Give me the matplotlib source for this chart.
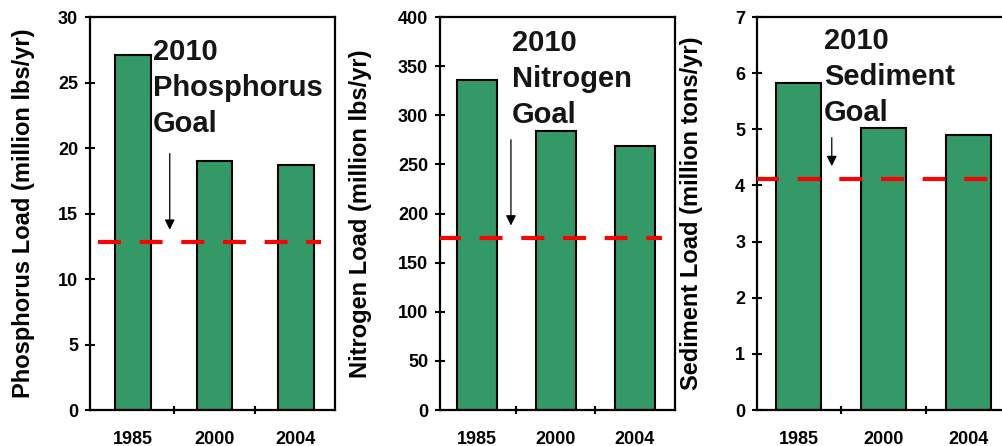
import matplotlib
matplotlib.use("Agg")
from matplotlib import pyplot as plt

plt.rcParams['font.family'] = ['Liberation Sans', 'DejaVu Sans']

years = ['1985', '2000', '2004']

phosphorus = [27.1, 19.0, 18.7]
nitrogen = [336, 284, 269]
sediment = [5.82, 5.03, 4.90]

phosphorus_goal = 12.8
nitrogen_goal = 175
sediment_goal = 4.12

phosphorus_ticks = [0, 5, 10, 15, 20, 25, 30]
nitrogen_ticks = [0, 50, 100, 150, 200, 250, 300, 350, 400]
sediment_ticks = [0, 1, 2, 3, 4, 5, 6, 7]

BAR_GREEN = '#339966'


def draw_panel(ax, values, goal, ticks, ylabel, name, bar_w,
               line_span, arrow_x, arrow_top, text_x, text_top, label_x, xlim):
    x = list(range(len(years)))
    ax.bar(x, values, width=bar_w, color=BAR_GREEN, edgecolor='black',
           linewidth=1.5, zorder=2)
    ax.hlines(goal, line_span[0], line_span[1], colors='#ff0000',
              linewidth=3, linestyles=(0, (5.5, 4.5)), zorder=3)
    ax.annotate('', xy=(arrow_x, goal + (ticks[-1] * 0.025)),
                xytext=(arrow_x, arrow_top),
                arrowprops=dict(arrowstyle='-|>', color='black', lw=0.9,
                                mutation_scale=15))
    ax.text(text_x, text_top, '2010\n' + name + '\nGoal', fontsize=21,
            fontweight='bold', va='top', ha='left', linespacing=1.36,
            color='#151515')

    ax.set_ylim(0, ticks[-1])
    ax.set_xlim(*xlim)
    ax.set_yticks(ticks)
    ax.set_yticklabels([str(t) for t in ticks], fontsize=13, fontweight='bold')
    ax.set_xticks(x)
    ax.set_xticklabels(years, fontsize=13, fontweight='bold')
    ax.set_xticks([0.5, 1.5], minor=True)
    ax.tick_params(axis='x', which='major', length=0, pad=15)
    ax.tick_params(axis='x', which='minor', direction='inout', length=6, width=1.5)
    ax.tick_params(axis='y', direction='inout', length=7, width=1.5, pad=5)
    for s in ax.spines.values():
        s.set_linewidth(1.6)
    ax.set_ylabel(ylabel, fontsize=17, fontweight='bold')
    ax.yaxis.set_label_coords(label_x, 0.5)


fig = plt.figure(figsize=(10.02, 4.46), dpi=100)

ax1 = fig.add_axes([0.0898, 0.0807, 0.2445, 0.881])
ax2 = fig.add_axes([0.4391, 0.0807, 0.2345, 0.881])
ax3 = fig.add_axes([0.7555, 0.0807, 0.2535, 0.881])

draw_panel(ax1, phosphorus, phosphorus_goal, phosphorus_ticks,
           'Phosphorus Load (million lbs/yr)', 'Phosphorus', 0.44,
           (-0.43, 2.31), 0.45, 19.8, 0.245, 28.4, -0.224, (-0.53, 2.48))
draw_panel(ax2, nitrogen, nitrogen_goal, nitrogen_ticks,
           'Nitrogen Load (million lbs/yr)', 'Nitrogen', 0.51,
           (-0.5, 2.34), 0.43, 278, 0.44, 388, -0.289, (-0.47, 2.51))
draw_panel(ax3, sediment, sediment_goal, sediment_ticks,
           'Sediment Load (million tons/yr)', 'Sediment', 0.53,
           (-0.5, 2.6), 0.39, 4.9, 0.30, 6.82, -0.213, (-0.49, 2.5))

fig.savefig('out.png', dpi=100)
